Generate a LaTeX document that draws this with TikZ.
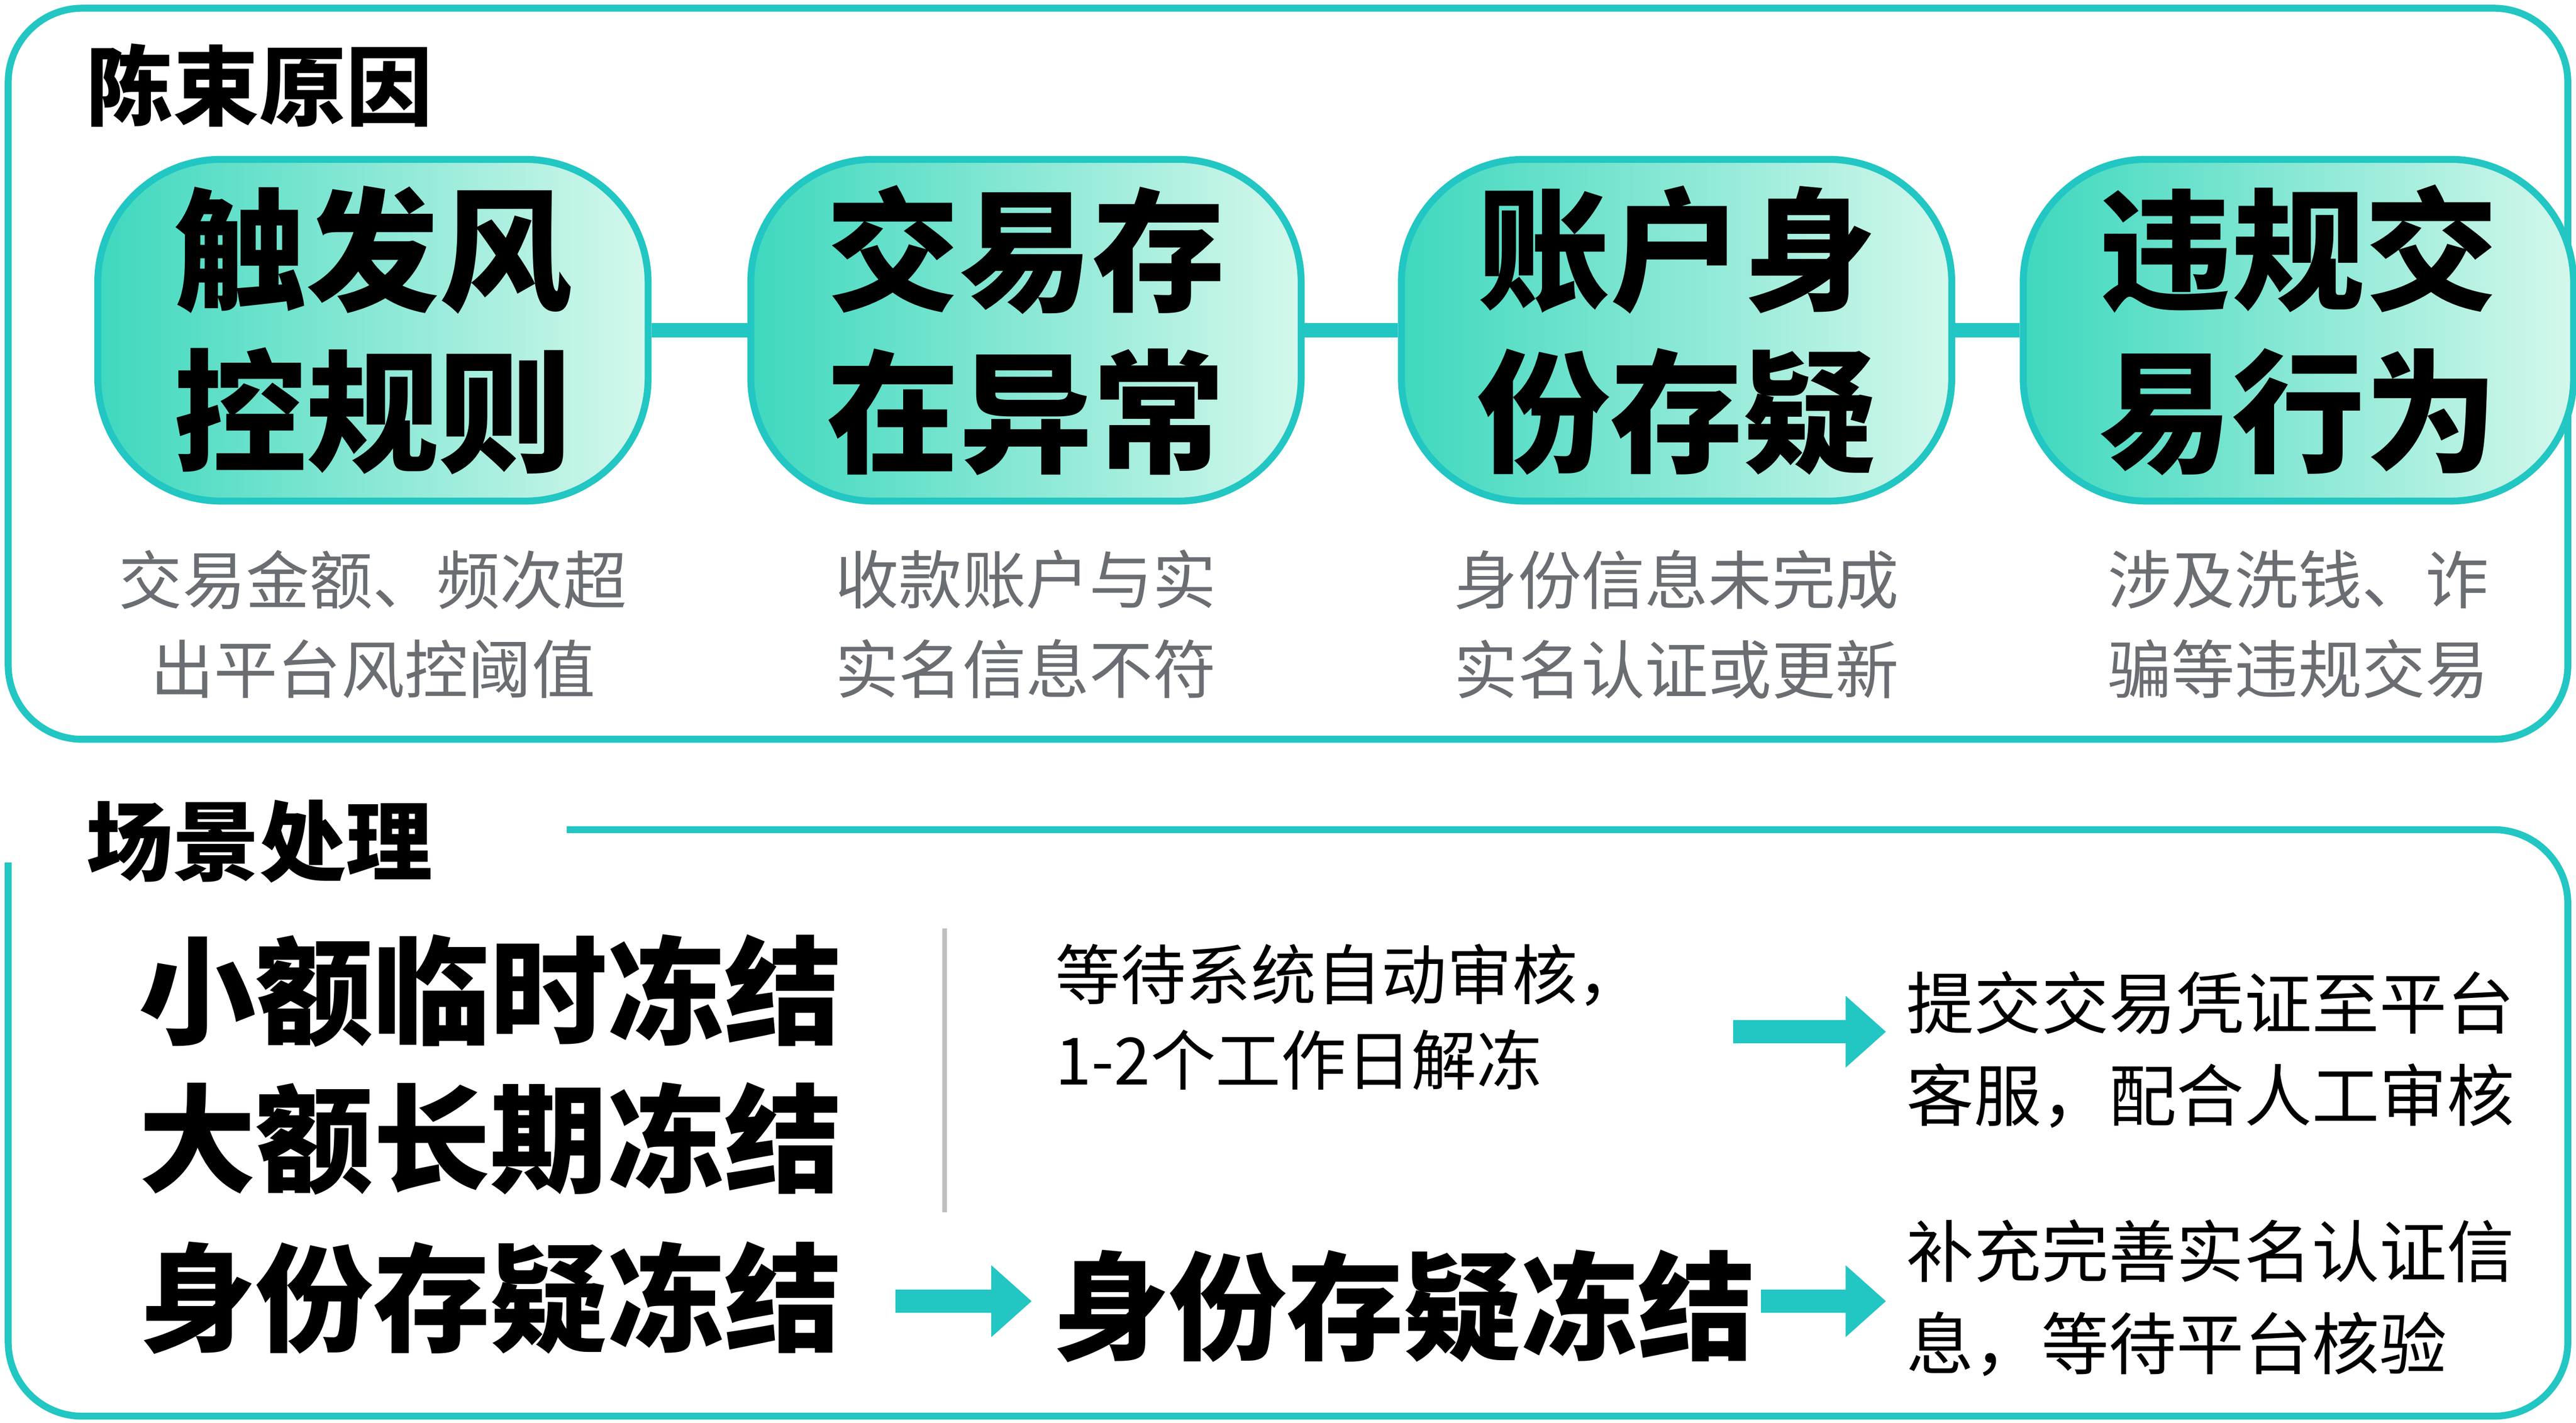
\documentclass[tikz,border=0pt]{standalone}
\usepackage{fontspec}
\setmainfont{Noto Sans CJK SC}
\usetikzlibrary{arrows.meta}
\definecolor{teal}{HTML}{22C6C2}
\definecolor{mint}{HTML}{D4F8EC}
\definecolor{jade}{HTML}{3ED8BE}
\definecolor{greytext}{HTML}{6A6E72}
\tikzset{
	causebox/.style={draw=teal, line width=1.2pt, rounded corners=0.75cm, minimum width=3.35cm, minimum height=2.08cm,
		left color=jade, right color=mint, align=center, font=\fontsize{23}{28}\selectfont\bfseries},
	note/.style={text=greytext, align=center, font=\fontsize{11}{15.5}\selectfont},
	bigline/.style={anchor=west, font=\fontsize{20.3}{25}\selectfont\bfseries},
	plain/.style={align=left, font=\fontsize{11.3}{14.8}\selectfont},
	flow/.style={teal, line width=4pt, -{Triangle[length=7pt,width=12pt]}},
}
\begin{document}
\begin{tikzpicture}
	\useasboundingbox (0,0) rectangle (15.68,-8.66);
	% upper panel
	\draw[teal, line width=1.2pt, rounded corners=0.45cm] (0.05,-0.05) rectangle (15.63,-4.5);
	\node[anchor=west, font=\fontsize{15}{18}\selectfont\bfseries] (title1) at (0.4,-0.52) {陈束原因};
	\foreach \n/\x/\t/\s in {a/2.27/触发风\\控规则/交易金额、频次超\\出平台风控阈值,
		b/6.245/交易存\\在异常/收款账户与实\\实名信息不符,
		c/10.205/账户身\\份存疑/身份信息未完成\\实名认证或更新,
		d/13.99/违规交\\易行为/涉及洗钱、诈\\骗等违规交易}{
		\node[causebox] (\n) at (\x,-2.01) {\t};
		\node[note] (\n s) at (\x,-3.8) {\s};
	}
	\foreach \p/\q in {a/b, b/c, c/d}{
		\draw[teal, line width=2.5pt] (\p) -- (\q);
	}
	% lower panel
	\draw[teal, line width=1.2pt, rounded corners=0.45cm] (3.45,-5.05) -- (15.63,-5.05) -- (15.63,-8.62) -- (0.05,-8.62) -- (0.05,-5.25);
	\node[anchor=west, font=\fontsize{15}{18}\selectfont\bfseries] (title2) at (0.4,-5.12) {场景处理};
	\node[bigline] (small) at (0.72,-6.03) {小额临时冻结};
	\node[bigline] (large) at (0.72,-6.93) {大额长期冻结};
	\node[bigline] (ident) at (0.72,-7.9) {身份存疑冻结};
	\draw[black!25, line width=0.8pt] (5.75,-5.65) -- (5.75,-7.38);
	\node[plain, anchor=west] (wait) at (6.3,-6.19) {等待系统自动审核，\\1-2个工作日解冻};
	\node[plain, anchor=west, font=\fontsize{11.7}{16}\selectfont] (submit) at (11.48,-6.39) {提交交易凭证至平台\\客服，配合人工审核};
	\node[bigline] (ident2) at (6.28,-7.95) {身份存疑冻结};
	\node[plain, anchor=west, font=\fontsize{11.7}{16}\selectfont] (fill) at (11.48,-7.9) {补充完善实名认证信\\息，等待平台核验};
	\coordinate (w1) at (10.55,-6.28);
	\coordinate (i1) at (5.45,-7.92);
	\coordinate (i2) at (10.72,-7.92);
	\draw[flow] (w1) -- (submit.west |- w1);
	\draw[flow] (i1) -- (ident2.west |- i1);
	\draw[flow] (i2) -- (fill.west |- i2);
\end{tikzpicture}
\end{document}
